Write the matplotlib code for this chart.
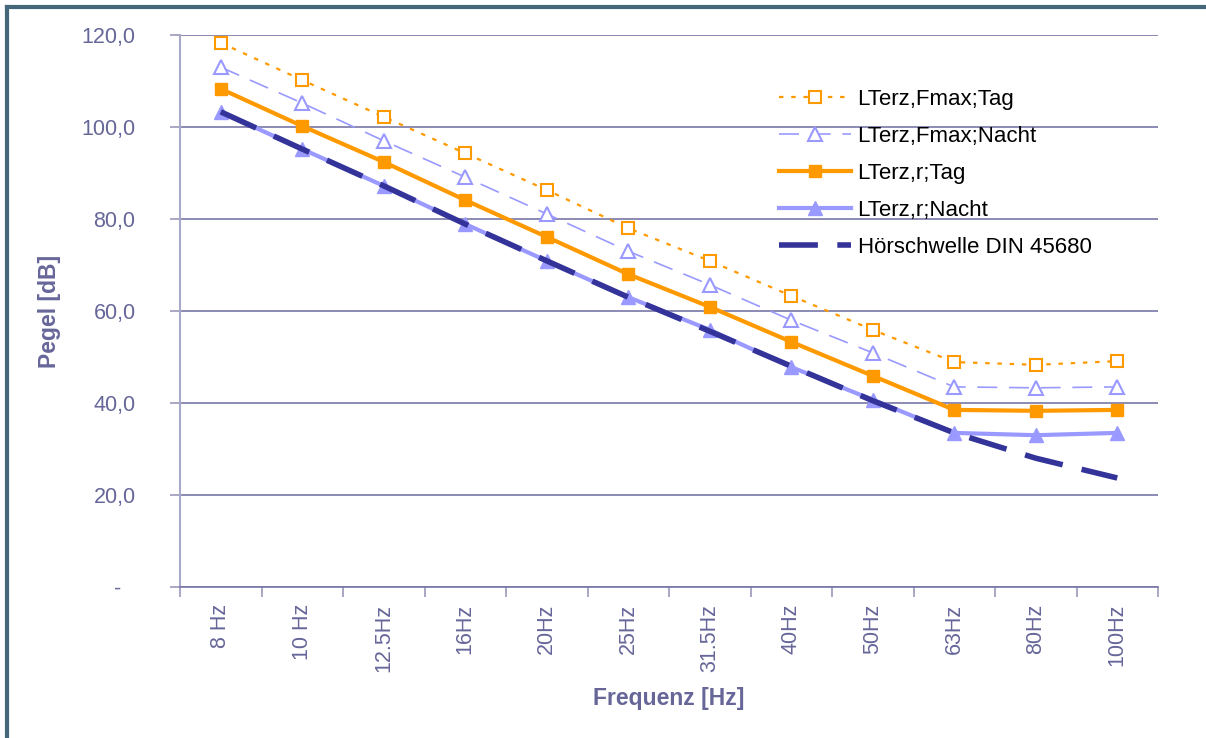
import matplotlib
matplotlib.use("Agg")
import matplotlib.pyplot as plt
from matplotlib.lines import Line2D
from matplotlib.transforms import ScaledTranslation

plt.rcParams['font.family'] = ['Liberation Sans', 'DejaVu Sans']

# Third-octave band centres
bands = ["8 Hz", "10 Hz", "12.5Hz", "16Hz", "20Hz", "25Hz", "31.5Hz",
         "40Hz", "50Hz", "63Hz", "80Hz", "100Hz"]

# Levels in dB
fmax_tag = [118.3, 110.2, 102.2, 94.3, 86.3, 78.0, 70.9, 63.3, 55.9, 48.9, 48.3, 49.1]
fmax_nacht = [113.0, 105.2, 97.0, 89.1, 81.1, 73.0, 65.7, 58.0, 50.9, 43.5, 43.3, 43.5]
r_tag = [108.3, 100.2, 92.4, 84.1, 76.1, 68.0, 60.9, 53.3, 45.9, 38.5, 38.3, 38.5]
r_nacht = [103.3, 95.2, 87.2, 78.9, 70.9, 63.0, 55.9, 47.8, 40.7, 33.5, 33.0, 33.5]
hoerschwelle = [103.3, 95.2, 87.2, 78.9, 70.9, 63.0, 55.6, 48.0, 40.5, 33.5, 28.0, 23.7]

yticks = [0, 20, 40, 60, 80, 100, 120]
ytick_labels = ["-", "20,0", "40,0", "60,0", "80,0", "100,0", "120,0"]

ORANGE = "#FF9900"
LILAC = "#9999FF"
NAVY = "#333399"
TXT = "#666699"

fig = plt.figure(figsize=(12.06, 7.38), dpi=100)
ax = fig.add_axes([180/1206, 1-587/738, (1158-180)/1206, (587-35)/738])

x = list(range(len(bands)))

ax.plot(x, fmax_tag, color=ORANGE, lw=1.6, ls=(0, (2, 3.5)), marker='s', ms=8,
        mfc='white', mec=ORANGE, mew=1.5, label="LTerz,Fmax;Tag", zorder=3)
ax.plot(x, fmax_nacht, color=LILAC, lw=1.2, ls=(0, (12, 7)), marker='^', ms=10,
        mfc='white', mec=LILAC, mew=1.5, label="LTerz,Fmax;Nacht", zorder=3)
ax.plot(x, r_tag, color=ORANGE, lw=3, marker='s', ms=8,
        mfc=ORANGE, mec=ORANGE, label="LTerz,r;Tag", zorder=4)
ax.plot(x, r_nacht, color=LILAC, lw=3, marker='^', ms=10,
        mfc=LILAC, mec=LILAC, label="LTerz,r;Nacht", zorder=4)
ax.plot(x, hoerschwelle, color=NAVY, lw=4, ls=(0, (7, 3.5)),
        label="Hörschwelle DIN 45680", zorder=5)

ax.set_xlim(-0.5, len(bands) - 0.5)
ax.set_ylim(0, 120)

# y axis
ax.set_yticks(yticks)
ax.set_yticklabels(ytick_labels)
ax.yaxis.grid(True, color="#7777A8", lw=1.2)
ax.set_axisbelow(True)
ax.tick_params(axis='y', length=7, width=1.2, color="#9999BB", pad=25,
               labelsize=15.5, labelcolor=TXT)
dash_lbl = ax.get_yticklabels()[0]
dash_lbl.set_transform(dash_lbl.get_transform() +
                       ScaledTranslation(-0.14, 0, fig.dpi_scale_trans))

# x axis: labels at band centres, ticks at band boundaries
ax.set_xticks(x)
ax.set_xticklabels(bands, rotation=90)
ax.set_xticks([i - 0.5 for i in range(len(bands) + 1)], minor=True)
ax.tick_params(axis='x', which='major', length=0, pad=12,
               labelsize=15.5, labelcolor=TXT)
ax.tick_params(axis='x', which='minor', length=7, width=1.2, color="#9999BB")

for s in ('top', 'right'):
    ax.spines[s].set_visible(False)
ax.spines['left'].set_color("#A8A8C8")
ax.spines['left'].set_linewidth(1.5)
ax.spines['bottom'].set_color("#7777A8")
ax.spines['bottom'].set_linewidth(1.2)

ax.set_xlabel("Frequenz [Hz]", fontsize=16.5, fontweight='bold', color=TXT)
ax.set_ylabel("Pegel [dB]", fontsize=16.5, fontweight='bold', color=TXT)
ax.yaxis.set_label_coords(-119/978, 0.5)
ax.xaxis.set_label_coords(0.5, -100/552)

leg = ax.legend(loc='upper left', bbox_to_anchor=(590/978, 1-45/552),
                frameon=False, fontsize=16, handlelength=3.24,
                handletextpad=0.3, labelspacing=0.72, borderaxespad=0)
for t in leg.get_texts():
    t.set_color("black")

# outer frame
frame_col = "#44687A"
fig.add_artist(Line2D([7/1206, 7/1206], [0, 1-7/738], color=frame_col, lw=3,
                      transform=fig.transFigure))
fig.add_artist(Line2D([7/1206, 1], [1-7/738, 1-7/738], color=frame_col, lw=3,
                      transform=fig.transFigure))

fig.savefig("out.png", dpi=100)
